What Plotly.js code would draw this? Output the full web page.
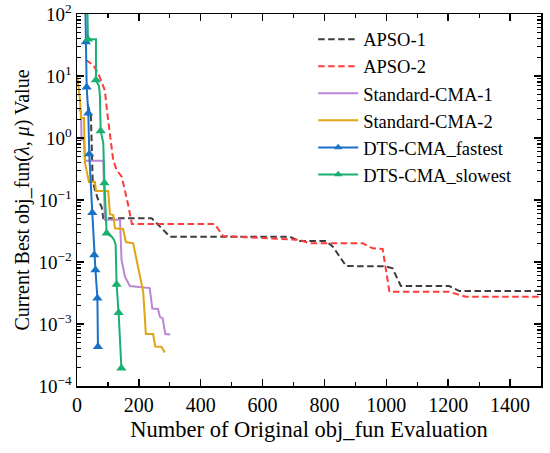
<!DOCTYPE html>
<html>
<head>
<meta charset="utf-8">
<script src="https://cdn.plot.ly/plotly-3.0.1.min.js"></script>
<style>html,body{margin:0;padding:0;background:#fff;}#chart{width:550px;height:453px;}</style>
</head>
<body>
<div id="chart"></div>
<script>
// ---- data ----
var seriesNames = ['APSO-1', 'APSO-2', 'Standard-CMA-1', 'Standard-CMA-2', 'DTS-CMA_fastest', 'DTS-CMA_slowest'];

var apso1X = [35, 45, 50.6, 58, 68.7, 79.7, 85, 241, 284, 300, 687, 719, 805, 827, 870, 999, 1020, 1047, 1203, 1236, 1500];
var apso1Y = [3.4, 2.2, 0.21, 0.145, 0.1, 0.077, 0.051, 0.051, 0.031, 0.0256, 0.0256, 0.0218, 0.0218, 0.0177, 0.0086, 0.0085, 0.0079, 0.0041, 0.0041, 0.0034, 0.0034];

var apso2X = [29, 52.6, 68.7, 85, 90, 98, 112, 117, 128, 145, 165.5, 177.4, 445, 472, 719, 752, 924, 956, 988, 1010, 1203, 1257, 1500];
var apso2Y = [18.1, 15, 11, 6.7, 5.9, 2.5, 0.77, 0.44, 0.305, 0.235, 0.083, 0.041, 0.041, 0.0263, 0.0227, 0.02, 0.02, 0.0166, 0.0162, 0.0033, 0.0033, 0.00275, 0.00275];

var cma1X = [5, 13, 14.5, 22.6, 25.8, 85, 90, 139, 144, 155, 171, 235, 243.5, 262, 268, 277, 285.5, 301.6];
var cma1Y = [2.8, 2.8, 0.93, 0.93, 0.43, 0.43, 0.048, 0.048, 0.0108, 0.0058, 0.0041, 0.0038, 0.00178, 0.00175, 0.0013, 0.00123, 0.00069, 0.00068];

var cma2X = [1, 9.7, 13, 22.6, 25.8, 38.7, 58, 61.3, 101, 106.5, 117, 122.6, 149, 158, 181.6, 192.6, 203, 214, 222.6, 246, 253, 273, 284];
var cma2Y = [10, 4.1, 2.1, 2.1, 0.395, 0.195, 0.195, 0.14, 0.14, 0.059, 0.057, 0.035, 0.034, 0.021, 0.020, 0.0108, 0.0057, 0.0033, 0.00069, 0.00069, 0.000434, 0.00043, 0.000347];

var fastX = [25.8, 29, 31.3, 36.5, 39.7, 49.4, 55.8, 59.7, 66, 67.7];
var fastY = [300, 35.3, 6.6, 2.5, 0.55, 0.062, 0.013, 0.0074, 0.0026, 0.00043];
var fastMarked = [1, 1, 1, 1, 1, 1, 1, 1, 1, 1];

var slowX = [32, 35.5, 61.3, 61.3, 71, 74, 76.5, 85, 88.7, 92.6, 95.8, 112, 120, 125, 128, 134.5, 143.5];
var slowY = [300, 39.1, 39.1, 8.6, 6.9, 4.9, 1.3, 0.83, 0.188, 0.048, 0.029, 0.0257, 0.0227, 0.0188, 0.00434, 0.00152, 0.000193];
var slowMarked = [0, 1, 0, 1, 0, 0, 1, 0, 1, 0, 1, 0, 0, 0, 1, 1, 1];

var yExponents = [-4, -3, -2, -1, 0, 1, 2];
var xTickVals = [0, 200, 400, 600, 800, 1000, 1200, 1400];

// ---- styles ----
var colors = ['#3d3d3d', '#ff3b3b', '#bb86d4', '#e0a512', '#1a71c8', '#19b071'];
var font = 'Liberation Serif, Times New Roman, serif';

function pick(arr, flags) { return arr.filter(function (v, i) { return flags[i]; }); }

var traces = [];
function lineTrace(x, y, name, color, dash, legend) {
  return {x: x, y: y, type: 'scatter', mode: 'lines', name: name, showlegend: legend, legendgroup: name,
          line: {color: color, width: 2, dash: dash}, hoverinfo: 'skip'};
}
traces.push(lineTrace(apso1X, apso1Y, seriesNames[0], colors[0], '6.5px,3.5px', true));
traces.push(lineTrace(apso2X, apso2Y, seriesNames[1], colors[1], '6.5px,3.5px', true));
traces.push(lineTrace(cma1X, cma1Y, seriesNames[2], colors[2], 'solid', true));
traces.push(lineTrace(cma2X, cma2Y, seriesNames[3], colors[3], 'solid', true));

function dtsTraces(x, y, flags, name, color) {
  var out = [];
  out.push(lineTrace(x, y, name, color, 'solid', false));
  out.push({x: pick(x, flags), y: pick(y, flags), type: 'scatter', mode: 'markers', name: name, showlegend: false,
            legendgroup: name, marker: {symbol: 'triangle-up', size: 9, color: color}, hoverinfo: 'skip'});
  out.push({x: [null], y: [null], type: 'scatter', mode: 'lines+markers', name: name, showlegend: true,
            legendgroup: name, line: {color: color, width: 2}, marker: {symbol: 'triangle-up', size: 7.5, color: color}});
  return out;
}
traces = traces.concat(dtsTraces(fastX, fastY, fastMarked, seriesNames[4], colors[4]));
traces = traces.concat(dtsTraces(slowX, slowY, slowMarked, seriesNames[5], colors[5]));

var yTickVals = yExponents.map(function (e) { return Math.pow(10, e); });
var yTickText = yExponents.map(function (e) { return '10<sup>' + (e < 0 ? '\u2212' + (-e) : e) + '</sup>'; });
var yMinor = [];
for (var e = -4; e < 2; e++) { for (var m = 2; m <= 9; m++) { yMinor.push(m * Math.pow(10, e)); } }

var layout = {
  width: 550, height: 453,
  margin: {l: 77, r: 9, t: 14, b: 67},
  paper_bgcolor: '#fff', plot_bgcolor: '#fff',
  font: {family: font, size: 18, color: '#000'},
  showlegend: true,
  legend: {x: 0.509, y: 0.982, xanchor: 'left', yanchor: 'top', bgcolor: 'rgba(0,0,0,0)',
           font: {family: font, size: 18.5, color: '#000'}, tracegroupgap: 0, itemwidth: 40},
  xaxis: {
    range: [0, 1500], tickmode: 'array', tickvals: xTickVals,
    ticks: 'inside', ticklen: 7, tickwidth: 1.5, tickcolor: '#000',
    showline: true, linecolor: '#000', linewidth: 1.5, mirror: 'allticks',
    showgrid: false, zeroline: false,
    tickfont: {family: font, size: 20, color: '#000'},
    minor: {dtick: 100, tick0: 0, ticks: 'inside', ticklen: 4, tickwidth: 1.2, tickcolor: '#000', showgrid: false},
    title: {text: 'Number of Original obj_fun Evaluation', font: {family: font, size: 22.5, color: '#000'}, standoff: 6}
  },
  yaxis: {
    type: 'log', range: [-4, 2], tickmode: 'array', tickvals: yTickVals, ticktext: yTickText,
    ticks: 'inside', ticklen: 7, tickwidth: 1.5, tickcolor: '#000',
    showline: true, linecolor: '#000', linewidth: 1.5, mirror: 'allticks',
    showgrid: false, zeroline: false,
    tickfont: {family: font, size: 19, color: '#000'},
    minor: {tickmode: 'array', tickvals: yMinor, ticks: 'inside', ticklen: 4, tickwidth: 1.2, tickcolor: '#000', showgrid: false},
    title: {text: 'Current Best obj_fun(<i>\u03bb</i>, <i>\u03bc</i>) Value', font: {family: font, size: 20, color: '#000'}, standoff: 3}
  }
};

Plotly.newPlot('chart', traces, layout, {staticPlot: true, displayModeBar: false});
</script>
</body>
</html>
